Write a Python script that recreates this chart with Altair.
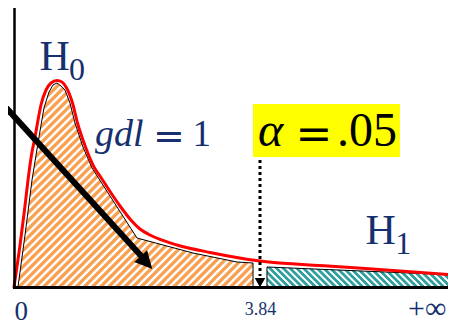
import altair as alt
import pandas as pd

# ---------------- data (x in chi-square units, y in density units) ----------------
# red H0 density curve
red_x = [0.0, 0.094, 0.164, 0.219, 0.273, 0.328, 0.375, 0.421, 0.5, 0.578, 0.671,
         0.749, 0.812, 0.913, 0.991, 1.116, 1.257, 1.342, 1.499, 1.655, 1.811, 1.967,
         2.123, 2.279, 2.544, 3.06, 3.84, 4.901, 6.025, 6.9]
red_y = [0.0, 0.105, 0.1925, 0.2675, 0.33, 0.375, 0.4175, 0.455, 0.4925, 0.51, 0.516,
         0.5125, 0.5, 0.46, 0.41, 0.35, 0.2975, 0.2775, 0.2388, 0.2025, 0.17, 0.145,
         0.13, 0.1188, 0.105, 0.0863, 0.065, 0.0525, 0.04, 0.03]

# acceptance region (orange hatched)
acc_x = [0.062, 0.172, 0.281, 0.390, 0.468, 0.546, 0.609, 0.671, 0.734, 0.796, 0.874,
         0.952, 1.077, 1.218, 1.920, 2.794, 3.481, 3.731]
acc_y = [0.0, 0.13, 0.2675, 0.375, 0.4475, 0.4875, 0.505, 0.51, 0.5025, 0.4925, 0.46,
         0.41, 0.35, 0.2975, 0.1225, 0.085, 0.0625, 0.06]

# rejection region (teal hatched)
rej_x = [3.949, 6.9]
rej_y = [0.05, 0.03]

critical_value = 3.84
tick_values = [0, 3.84, 6.441]
tick_labels = ["0", "3.84", "+∞"]

# annotation anchors
arrow_x = [-0.219, 2.014]
arrow_y = [0.465, 0.0725]
arrow_head = (2.068, 0.061)
crit_line_top = 0.3175
crit_line_bottom = 0.0275
crit_head_y = 0.011
alpha_box = (3.731, 6.025, 0.4575, 0.325)

texts = [
    # text, x, y, size, font, italic, colour
    ("H", 0.398, 0.5425, 42, "Liberation Serif", False, "navy"),
    ("0", 0.857, 0.5175, 32, "Liberation Serif", False, "navy"),
    ("gdl", 1.264, 0.3525, 38, "Liberation Serif", True, "navy"),
    ("=", 2.170, 0.345, 38, "DejaVu Serif", False, "navy"),
    ("1", 2.786, 0.3525, 37, "Liberation Serif", False, "navy"),
    ("α", 3.809, 0.3525, 48, "Liberation Serif", True, "black"),
    ("=", 4.396, 0.345, 44, "DejaVu Serif", False, "black"),
    (".05", 5.042, 0.3525, 48, "Liberation Serif", False, "black"),
    ("H", 5.487, 0.1075, 42, "Liberation Serif", False, "navy"),
    ("1", 5.95, 0.0833, 32, "Liberation Serif", False, "navy"),
]

NAVY = "#16306e"
ORANGE = "#f8a152"
TEAL = "#2f9f9f"

# ---------------- scales / axes ----------------
W, H = 432, 279
xs = alt.Scale(domain=[0, W / 64.0625], nice=False, zero=False)
ys = alt.Scale(domain=[0, H / 400.0], nice=False, zero=False)

label_expr = ("datum.value == 0 ? '%s' : (datum.value < 5 ? '%s' : '%s')"
              % tuple(tick_labels))
x_axis = alt.Axis(title=None, values=tick_values, labelExpr=label_expr, ticks=False,
                  tickSize=0, grid=False, domainColor="black", domainWidth=3,
                  domainCap="square", labelFont="Liberation Serif", labelColor=NAVY,
                  labelFontSize={"expr": "datum.value == 0 ? 27 : (datum.value < 5 ? 18 : 30)"},
                  labelPadding={"expr": "datum.value == 0 ? 11.5 : (datum.value < 5 ? 13 : 6.5)"},
                  labelBaseline="top", labelFlush=True,
                  labelOverlap=False, zindex=1)
y_axis = alt.Axis(title=None, labels=False, ticks=False, grid=False,
                  domainColor="black", domainWidth=2.5, domainCap="square", zindex=1)


def X(f="x"):
    return alt.X(f, type="quantitative", scale=xs, axis=x_axis)


def Y(f="y"):
    return alt.Y(f, type="quantitative", scale=ys, axis=y_axis, stack=None)


def stripes(color, n, x1, y1, x2, y2):
    stops = []
    for k in range(n):
        a = k / n
        p = 1.0 / n
        stops += [alt.GradientStop(color=color, offset=round(a, 5)),
                  alt.GradientStop(color=color, offset=round(a + 0.42 * p, 5)),
                  alt.GradientStop(color="#ffffff", offset=round(a + 0.58 * p, 5)),
                  alt.GradientStop(color="#ffffff", offset=round(a + 0.84 * p, 5))]
    stops.append(alt.GradientStop(color=color, offset=1))
    return alt.Gradient(gradient="linear", stops=stops, x1=x1, y1=y1, x2=x2, y2=y2)


acc_df = pd.DataFrame({"x": acc_x, "y": acc_y})
rej_df = pd.DataFrame({"x": rej_x, "y": rej_y})
red_df = pd.DataFrame({"x": red_x, "y": red_y})

acc = alt.Chart(acc_df).mark_area(
    fill=stripes(ORANGE, 54, 0, 0, 1.0656, 0.925), stroke="black", strokeWidth=1,
    interpolate="linear").encode(x=X(), y=Y())

rej = alt.Chart(rej_df).mark_area(
    fill=stripes(TEAL, 31, 0, 1, 1.0935, 0.884), stroke="black", strokeWidth=1,
    interpolate="linear").encode(x=X(), y=Y())

red = alt.Chart(red_df).mark_line(
    color="#ff0000", strokeWidth=3, interpolate="monotone", strokeCap="round"
).encode(x=X(), y=Y())

box_df = pd.DataFrame({"x": [alpha_box[0]], "x2": [alpha_box[1]],
                       "y": [alpha_box[2]], "y2": [alpha_box[3]]})
box = alt.Chart(box_df).mark_rect(color="#ffff00").encode(
    x=X(), x2="x2", y=Y(), y2="y2")

crit_df = pd.DataFrame({"x": [critical_value], "y": [crit_line_top], "y2": [crit_line_bottom]})
crit = alt.Chart(crit_df).mark_rule(color="black", strokeWidth=3, strokeDash=[3, 3]).encode(
    x=X(), y=Y(), y2="y2")
crit_head = alt.Chart(pd.DataFrame({"x": [critical_value], "y": [crit_head_y]})).mark_point(
    shape="triangle-down", filled=True, size=110, color="black", opacity=1).encode(x=X(), y=Y())

arr_df = pd.DataFrame({"x": arrow_x, "y": arrow_y})
arr = alt.Chart(arr_df).mark_line(color="black", strokeWidth=6).encode(x=X(), y=Y())
arr_head = alt.Chart(pd.DataFrame({"x": [arrow_head[0]], "y": [arrow_head[1]]})).mark_point(
    shape="M-1,-1L1,-1L0,1Z", angle=318, filled=True, size=300, color="black",
    opacity=1).encode(x=X(), y=Y())

layers = [acc, rej, red, box, crit, crit_head, arr, arr_head]
for t, tx, ty, sz, fnt, it, col in texts:
    d = pd.DataFrame({"x": [tx], "y": [ty], "t": [t]})
    layers.append(alt.Chart(d).mark_text(
        align="left", baseline="alphabetic", fontSize=sz, font=fnt,
        fontStyle="italic" if it else "normal",
        color=NAVY if col == "navy" else "black").encode(x=X(), y=Y(), text="t:N"))

chart = alt.layer(*layers).properties(
    width=W, height=H, autosize="none",
    padding={"left": 6, "top": 0, "right": 2, "bottom": 37},
    background="white",
).configure_view(stroke=None)

chart.save("out.html", embed_options={"renderer": "svg", "actions": False})
